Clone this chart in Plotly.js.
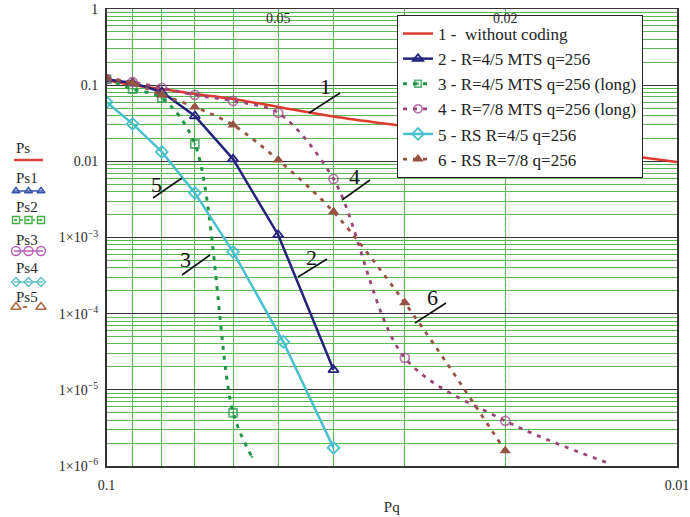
<!DOCTYPE html>
<html><head><meta charset="utf-8">
<script src="https://cdn.plot.ly/plotly-3.0.1.min.js"></script>
<style>html,body{margin:0;padding:0;background:#fff}#chart{width:690px;height:517px}</style>
</head><body><div id="chart"></div>
<script>
// ---------------- data ----------------
// 1 - without coding (smooth curve)
const ps_x  = [0.1, 0.09, 0.08, 0.07, 0.06, 0.05, 0.04, 0.03, 0.02, 0.01];
const ps_y  = [0.117, 0.1006, 0.0891, 0.0767, 0.0659, 0.0518, 0.0388, 0.0289, 0.0194, 0.0098];
// 2 - R=4/5 MTS q=256
const ps1_x = [0.1, 0.09, 0.08, 0.07, 0.06, 0.05, 0.04];
const ps1_y = [0.12, 0.107, 0.0814, 0.0394, 0.0107, 0.00108, 1.83e-5];
// 3 - R=4/5 MTS q=256 (long)   (+ unmarked end of the drawn curve)
const ps2_x = [0.1, 0.09, 0.08, 0.07, 0.06];
const ps2_y = [0.12, 0.089, 0.068, 0.0169, 5.0e-6];
const ps2_end = [0.0556, 1.32e-6];
// 4 - R=7/8 MTS q=256 (long)   (+ unmarked end of the drawn curve)
const ps3_x = [0.1, 0.09, 0.08, 0.07, 0.06, 0.05, 0.04, 0.03, 0.02];
const ps3_y = [0.12, 0.110, 0.092, 0.0744, 0.062, 0.0432, 0.00587, 2.63e-5, 3.92e-6];
const ps3_end = [0.0131, 1.07e-6];
// 5 - RS R=4/5 q=256
const ps4_x = [0.1, 0.09, 0.08, 0.07, 0.06, 0.049, 0.04];
const ps4_y = [0.060, 0.031, 0.0133, 0.00385, 6.47e-4, 4.27e-5, 1.73e-6];
// 6 - RS R=7/8 q=256
const ps5_x = [0.1, 0.09, 0.08, 0.07, 0.06, 0.05, 0.04, 0.03, 0.02];
const ps5_y = [0.124, 0.107, 0.0744, 0.0518, 0.030, 0.0104, 0.00217, 1.39e-4, 1.58e-6];

const seriesNames = ['1 -  without coding', '2 - R=4/5 MTS q=256', '3 - R=4/5 MTS q=256 (long)',
                     '4 - R=7/8 MTS q=256 (long)', '5 - RS R=4/5 q=256', '6 - RS R=7/8 q=256'];
const sideNames = ['Ps', 'Ps1', 'Ps2', 'Ps3', 'Ps4', 'Ps5'];
const xGrid = [0.1, 0.09, 0.08, 0.07, 0.06, 0.05, 0.04, 0.03, 0.02, 0.01];
const xLabelsBottom = {0.1: '0.1', 0.01: '0.01'};
const xLabelsTop = [0.05, 0.02];
const yDecades = [1, 0.1, 0.01, 1e-3, 1e-4, 1e-5, 1e-6];
const yLabels = ['1', '0.1', '0.01', '1×10<sup>−3</sup>', '1×10<sup>−4</sup>', '1×10<sup>−5</sup>', '1×10<sup>−6</sup>'];
const curveLabels = ['1', '2', '3', '4', '5', '6'];

// ---------------- layout geometry (pixels) ----------------
const W = 690, H = 517;
const PL = 4, PR = 677, PT = 9, PB = 466;
const AX0 = 106.5;
const X = px => (px - PL) / (PR - PL);
const Y = py => (PB - py) / (PB - PT);
const FONT = '"Liberation Serif", "Times New Roman", serif';
const TXT = '#2a2a2a';
const GREEN = 'rgb(92,184,84)';

const C = {
  red: 'rgb(222,58,46)', navy: 'rgb(35,35,125)', green: 'rgb(30,150,70)',
  purple: 'rgb(155,70,120)', cyan: 'rgb(72,192,205)', brown: 'rgb(150,82,66)'
};

const minorVals = [];
for (let e = -6; e < 0; e++) for (let m = 2; m <= 9; m++) minorVals.push(m * Math.pow(10, e));

function withEnd(xs, ys, end, size) {
  return { x: xs.concat([end[0]]), y: ys.concat([end[1]]), size: xs.map(() => size).concat([0]) };
}
const g3 = withEnd(ps2_x, ps2_y, ps2_end, 8);
const g4 = withEnd(ps3_x, ps3_y, ps3_end, 9);

const traces = [
  { x: ps_x, y: ps_y, name: seriesNames[0], mode: 'lines', line: { color: C.red, width: 2.5, shape: 'spline' }, legendgroup: 'a' },
  { x: ps1_x, y: ps1_y, name: seriesNames[1], mode: 'lines+markers', line: { color: C.navy, width: 2.5 },
    marker: { symbol: 'triangle-up-open', size: 9, color: C.navy, line: { width: 1.8 } }, legendgroup: 'b' },
  { x: g3.x, y: g3.y, name: seriesNames[2], mode: 'lines+markers', line: { color: C.green, width: 3, dash: '4px,6px', shape: 'spline', smoothing: 0.9 },
    marker: { symbol: 'square-open-dot', size: g3.size, color: C.green, line: { width: 1.8 } }, legendgroup: 'c' },
  { x: g4.x, y: g4.y, name: seriesNames[3], mode: 'lines+markers', line: { color: C.purple, width: 2.8, dash: '4px,6px', shape: 'spline', smoothing: 0.9 },
    marker: { symbol: 'circle-open', size: g4.size, color: 'rgb(160,70,140)', line: { width: 1.8 } }, legendgroup: 'd' },
  { x: ps4_x, y: ps4_y, name: seriesNames[4], mode: 'lines+markers', line: { color: C.cyan, width: 2.5 },
    marker: { symbol: 'diamond-open', size: 9, color: C.cyan, line: { width: 1.8 } }, legendgroup: 'e' },
  { x: ps5_x, y: ps5_y, name: seriesNames[5], mode: 'lines+markers', line: { color: C.brown, width: 2.8, dash: '4px,6px', shape: 'spline', smoothing: 0.9 },
    marker: { symbol: 'triangle-up', size: 10, color: C.brown }, legendgroup: 'f' }
];
traces.forEach(t => { t.hoverinfo = 'skip'; });

// ---------- side key (left, outside the plot) drawn on a helper pixel axis ----------
const sideKey = {
  x0: 14, x1: 43, mk: [16, 28.5, 41],
  textY: [148, 178, 207, 240, 268, 297],
  lineY: [160, 191, 220, 251, 282, 307],
  styles: [
    { color: 'rgb(215,70,60)', line: 'solid', symbol: null },
    { color: 'rgb(55,85,170)', line: 'solid', symbol: 'triangle-up-open' },
    { color: 'rgb(70,175,70)', line: 'dot', symbol: 'square-open-dot' },
    { color: 'rgb(185,95,185)', line: 'solid', symbol: 'circle-open' },
    { color: 'rgb(95,190,200)', line: 'solid', symbol: 'diamond-open' },
    { color: 'rgb(175,105,65)', line: 'dash', symbol: 'triangle-up-open' }
  ]
};
sideKey.styles.forEach((s, i) => {
  const y = sideKey.lineY[i];
  if (i === 5) {
    traces.push({ x: [16, 41], y: [y, y], mode: 'markers', xaxis: 'x2', yaxis: 'y2', showlegend: false, hoverinfo: 'skip',
      marker: { symbol: s.symbol, size: 9, color: s.color, line: { width: 1.5 } } });
    traces.push({ x: [23, 27], y: [y, y], mode: 'lines', xaxis: 'x2', yaxis: 'y2', showlegend: false, hoverinfo: 'skip',
      line: { color: s.color, width: 2 } });
    return;
  }
  traces.push({ x: [sideKey.x0, sideKey.x1], y: [y, y], mode: 'lines', xaxis: 'x2', yaxis: 'y2', showlegend: false, hoverinfo: 'skip',
    line: { color: s.color, width: i === 0 ? 2.5 : 1.5, dash: s.line } });
  if (s.symbol) traces.push({ x: sideKey.mk, y: [y, y, y], mode: 'markers', xaxis: 'x2', yaxis: 'y2', showlegend: false, hoverinfo: 'skip',
    marker: { symbol: s.symbol, size: i === 3 ? 9 : 7, color: s.color, line: { width: 1.4 } } });
});

// ---------------- annotations & shapes ----------------
const annotations = [];
const shapes = [];

xLabelsTop.forEach(v => annotations.push({ xref: 'x', yref: 'paper', x: Math.log10(v), y: Y(18),
  xanchor: 'center', yanchor: 'middle', text: String(v),
  showarrow: false, font: { family: FONT, size: 14, color: TXT } }));
xLabelsTop.forEach(v => shapes.push({ type: 'line', xref: 'x', yref: 'y domain', x0: v, x1: v, y0: 0, y1: 1,
  layer: 'below', line: { color: 'rgba(70,90,70,0.5)', width: 1, dash: '2px,4px' } }));

sideNames.forEach((n, i) => annotations.push({ xref: 'paper', yref: 'paper', x: X(14), y: Y(sideKey.textY[i]), xanchor: 'left', yanchor: 'middle',
  text: n, showarrow: false, font: { family: FONT, size: 15, color: TXT } }));

// curve number labels with leader strokes (pixel positions)
const leaders = [
  { t: [325, 86], l: [340, 93, 309, 113] },
  { t: [311, 257], l: [327, 259, 298, 277] },
  { t: [185, 259], l: [210, 255, 182, 275] },
  { t: [354, 176], l: [370, 180, 342, 200] },
  { t: [156, 185], l: [182, 178, 153, 198] },
  { t: [433, 297], l: [446, 303, 415, 323] }
];
leaders.forEach((d, i) => {
  annotations.push({ xref: 'paper', yref: 'paper', x: X(d.t[0]), y: Y(d.t[1]), xanchor: 'center', yanchor: 'middle',
    text: curveLabels[i], showarrow: false, font: { family: FONT, size: 22, color: '#111' } });
  shapes.push({ type: 'line', xref: 'paper', yref: 'paper', x0: X(d.l[0]), y0: Y(d.l[1]), x1: X(d.l[2]), y1: Y(d.l[3]),
    line: { color: '#111', width: 1.6 } });
});

const tickFont = { family: FONT, size: 14, color: TXT };
const layout = {
  width: W, height: H,
  margin: { l: PL, r: W - PR, t: PT, b: H - PB, pad: 0 },
  paper_bgcolor: '#fff', plot_bgcolor: '#fff',
  showlegend: true,
  legend: {
    x: X(397), y: Y(15), xanchor: 'left', yanchor: 'top',
    bgcolor: '#fff', bordercolor: '#222', borderwidth: 1,
    font: { family: FONT, size: 17, color: '#222' },
    itemwidth: 30, tracegroupgap: 1, traceorder: 'normal'
  },
  xaxis: {
    type: 'log', domain: [X(AX0), 1], range: [-1, -2], autorange: false,
    tickmode: 'array', tickvals: xGrid, ticktext: xGrid.map(v => xLabelsBottom[v] || ''),
    showgrid: true, gridcolor: GREEN, gridwidth: 1, zeroline: false,
    showline: true, linecolor: '#333', linewidth: 1.5, mirror: true,
    ticks: 'outside', ticklen: 6, tickcolor: 'rgba(0,0,0,0)', tickfont: tickFont,
    title: { text: 'Pq', font: { family: FONT, size: 15, color: TXT }, standoff: 9 }
  },
  yaxis: {
    type: 'log', range: [-6, 0], autorange: false,
    tickmode: 'array', tickvals: yDecades, ticktext: yLabels,
    showgrid: true, gridcolor: '#333', gridwidth: 1, zeroline: false,
    minor: { tickmode: 'array', tickvals: minorVals, showgrid: true, gridcolor: GREEN, gridwidth: 1, ticks: '' },
    showline: true, linecolor: '#333', linewidth: 1.5, mirror: true,
    ticks: 'outside', ticklen: 4, tickcolor: 'rgba(0,0,0,0)', tickfont: tickFont
  },
  xaxis2: { domain: [0, X(50)], range: [PL, 50], visible: false, anchor: 'y2', fixedrange: true },
  yaxis2: { domain: [0, 1], range: [PB, PT], visible: false, anchor: 'x2', fixedrange: true },
  annotations, shapes
};

Plotly.newPlot('chart', traces, layout, { staticPlot: true, displayModeBar: false });
</script></body></html>
